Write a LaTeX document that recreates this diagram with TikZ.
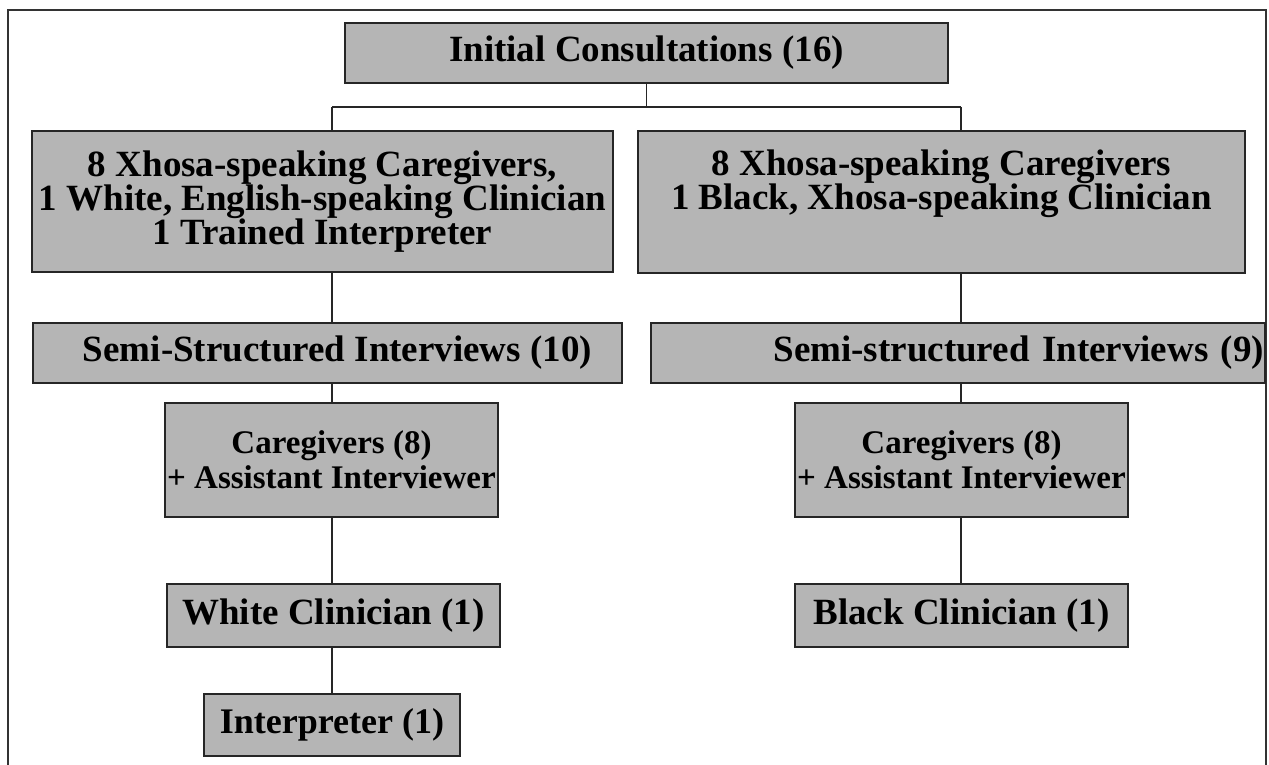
\documentclass[tikz,border=0pt]{standalone}
\usepackage{fontspec}
\setmainfont{Liberation Serif}
\begin{document}
\begin{tikzpicture}[x=1pt,y=-1pt,
  box/.style={draw=black!85,line width=1.6pt,fill=gray!58,inner sep=0pt,
    font=\fontsize{37}{34}\selectfont\bfseries,align=center,text=black},
  smallbox/.style={box,font=\fontsize{33}{35}\selectfont\bfseries},
  link/.style={draw=black!85,line width=1.4pt},
  frame/.style={draw=black!80,line width=1.2pt}]
\useasboundingbox (0,0) rectangle (1269,765);
% outer frame, open at the bottom
\draw[frame] (8,765) -- (8,10) -- (1266,10) -- (1266,765);

% boxes
\node[box,minimum width=603,minimum height=60] (init) at (646.5,53) {Initial Consultations (16)};
\node[box,minimum width=581,minimum height=141] (bigL) at (322.5,201.5)
  {8 Xhosa-speaking Caregivers,\\1 White, English-speaking Clinician\\1 Trained Interpreter};
\node[box,minimum width=607,minimum height=142] (bigR) at (941.5,202)
  {8 Xhosa-speaking Caregivers\\1 Black, Xhosa-speaking Clinician\\\strut};
\node[box,minimum width=589,minimum height=60] (semiL) at (327.5,353) {\hspace*{20pt}Semi-Structured Interviews (10)};
\node[box,minimum width=614,minimum height=60,text width=612,align=right] (semiR) at (958,353) {Semi-structured Interviews (9)};
\node[smallbox,minimum width=333,minimum height=114] (careL) at (331.5,460) {Caregivers (8)\\+ Assistant Interviewer};
\node[smallbox,minimum width=333,minimum height=114] (careR) at (961.5,460) {Caregivers (8)\\+ Assistant Interviewer};
\node[box,minimum width=333,minimum height=63] (whiteC) at (333.5,615.5) {White Clinician (1)};
\node[box,minimum width=333,minimum height=63] (blackC) at (961.5,615.5) {Black Clinician (1)};
\node[box,minimum width=256,minimum height=62,font=\fontsize{36}{34}\selectfont\bfseries] (interp) at (332,725) {Interpreter (1)};

% branch points
\coordinate (busL) at (332,107);
\coordinate (busR) at (961,107);

% connectors
\draw[link] (init.south) -- (init.south |- busL);
\draw[link] (busL) -- (busR);
\draw[link] (busL) -- (busL |- bigL.north);
\draw[link] (busR) -- (busR |- bigR.north);
\draw[link] (busL |- bigL.south) -- (busL |- semiL.north);
\draw[link] (busR |- bigR.south) -- (busR |- semiR.north);
\draw[link] (busL |- semiL.south) -- (busL |- careL.north);
\draw[link] (busR |- semiR.south) -- (busR |- careR.north);
\draw[link] (busL |- careL.south) -- (busL |- whiteC.north);
\draw[link] (busR |- careR.south) -- (busR |- blackC.north);
\draw[link] (busL |- whiteC.south) -- (busL |- interp.north);
\end{tikzpicture}
\end{document}
